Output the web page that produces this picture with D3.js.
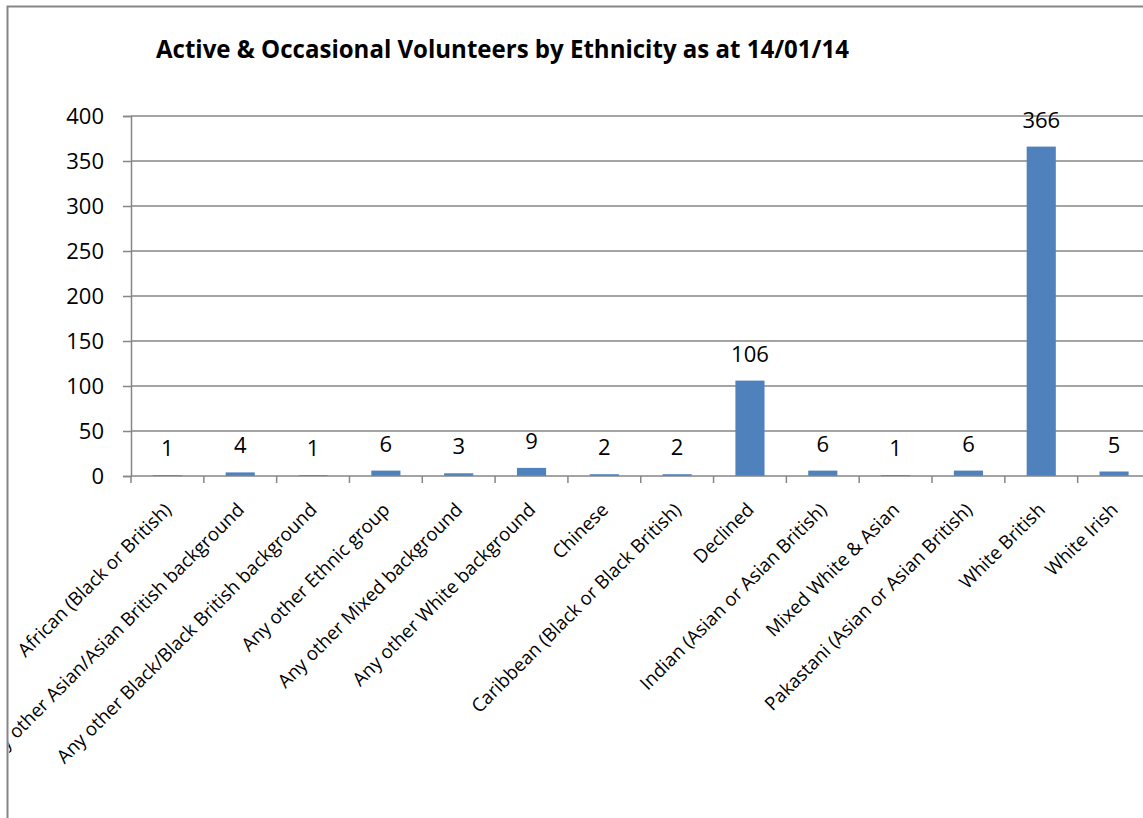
<!DOCTYPE html>
<html>
<head>
<meta charset="utf-8">
<script src="https://cdn.jsdelivr.net/npm/d3@7/dist/d3.min.js"></script>
<style>
  html, body { margin: 0; padding: 0; background: #ffffff; }
  svg { display: block; }
  text { font-family: "Open Sans", "Liberation Sans", sans-serif; fill: #000; }
</style>
</head>
<body>
<svg id="chart" width="1143" height="818"></svg>
<script>
// Volunteer counts by ethnicity
const categories = [
  "African (Black or British)",
  "Any other Asian/Asian British background",
  "Any other Black/Black British background",
  "Any other Ethnic group",
  "Any other Mixed background",
  "Any other White background",
  "Chinese",
  "Caribbean (Black or Black British)",
  "Declined",
  "Indian (Asian or Asian British)",
  "Mixed White & Asian",
  "Pakastani (Asian or Asian British)",
  "White British",
  "White Irish"
];
const volunteers = [1, 4, 1, 6, 3, 9, 2, 2, 106, 6, 1, 6, 366, 5];
const yTicks = [0, 50, 100, 150, 200, 250, 300, 350, 400];
const titleText = "Active & Occasional Volunteers by Ethnicity as at 14/01/14";

const svg = d3.select("#chart");
const gridColor = "#868686";
const barColor = "#4F81BD";

// chart area frame and clip
const frame = { x: 7.5, y: 6.5 };
svg.append("defs").append("clipPath").attr("id", "area")
  .append("rect").attr("x", frame.x + 1).attr("y", frame.y + 1)
  .attr("width", 1200).attr("height", 900);

const root = svg.append("g").attr("clip-path", "url(#area)");

const plot = { left: 131, top: 116, bottom: 476, step: 72.82 };
const x = d3.scaleBand()
  .domain(categories)
  .range([plot.left, plot.left + plot.step * categories.length])
  .padding(0);
const y = d3.scaleLinear().domain([0, 400]).range([plot.bottom, plot.top]);

// horizontal gridlines
root.append("g").selectAll("line.grid")
  .data(yTicks.filter(d => d > 0))
  .join("line")
  .attr("x1", plot.left).attr("x2", x.range()[1])
  .attr("y1", d => y(d)).attr("y2", d => y(d))
  .attr("stroke", gridColor).attr("stroke-width", 1.5);

// y axis
const yAxis = d3.axisLeft(y).tickValues(yTicks).tickSize(8).tickPadding(19);
const gy = root.append("g").attr("transform", `translate(${plot.left},0)`).call(yAxis);
gy.select(".domain").attr("stroke", gridColor).attr("stroke-width", 1.5);
gy.selectAll(".tick line").attr("stroke", gridColor).attr("stroke-width", 1.5);
gy.selectAll(".tick text").attr("font-size", 22).attr("font-family", "Open Sans").attr("fill", "#000");

// bars
const barW = x.bandwidth() / 2.5;
root.append("g").selectAll("rect")
  .data(categories.map((c, i) => ({ c, v: volunteers[i] })))
  .join("rect")
  .attr("x", d => x(d.c) + (x.bandwidth() - barW) / 2)
  .attr("y", d => y(d.v))
  .attr("width", barW)
  .attr("height", d => y(0) - y(d.v))
  .attr("fill", barColor);

// x axis line and ticks at category boundaries
root.append("line")
  .attr("x1", plot.left).attr("x2", x.range()[1])
  .attr("y1", y(0)).attr("y2", y(0))
  .attr("stroke", gridColor).attr("stroke-width", 1.5);
const bounds = categories.map(c => x(c)).concat([x.range()[1]]);
root.append("g").selectAll("line")
  .data(bounds)
  .join("line")
  .attr("x1", d => d).attr("x2", d => d)
  .attr("y1", y(0)).attr("y2", y(0) + 7)
  .attr("stroke", gridColor).attr("stroke-width", 1.5);

// value labels
root.append("g").selectAll("text")
  .data(categories.map((c, i) => ({ c, v: volunteers[i] })))
  .join("text")
  .attr("x", d => x(d.c) + x.bandwidth() / 2)
  .attr("y", d => y(d.v) - 19)
  .attr("text-anchor", "middle")
  .attr("font-size", 22)
  .text(d => d.v);

// rotated category labels
root.append("g").selectAll("text")
  .data(categories)
  .join("text")
  .attr("text-anchor", "end")
  .attr("font-size", 18.7)
  .attr("transform", d => `translate(${x(d) + x.bandwidth() / 2 + 5},${y(0) + 35}) rotate(-45)`)
  .text(d => d);

// title
root.append("text")
  .attr("x", 156).attr("y", 58)
  .attr("font-size", 25)
  .attr("font-weight", "bold")
  .attr("textLength", 693)
  .attr("lengthAdjust", "spacingAndGlyphs")
  .text(titleText);

// chart area border
svg.append("rect")
  .attr("x", frame.x).attr("y", frame.y)
  .attr("width", 1200).attr("height", 900)
  .attr("fill", "none")
  .attr("stroke", gridColor).attr("stroke-width", 2);
</script>
</body>
</html>
